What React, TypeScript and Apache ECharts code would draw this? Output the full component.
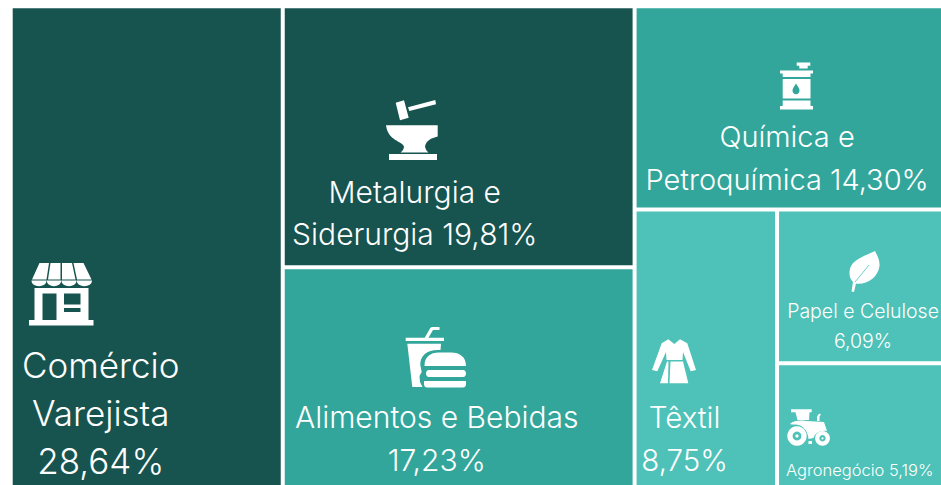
import React, { useEffect, useRef } from "react";
import * as echarts from "echarts";

const sectors = ["Comércio Varejista", "Metalurgia e Siderurgia", "Alimentos e Bebidas", "Química e Petroquímica", "Têxtil", "Papel e Celulose", "Agronegócio"];
const shares = [28.64, 19.81, 17.23, 14.3, 8.75, 6.09, 5.19];
const labelTexts = [
  "Comércio\nVarejista\n28,64%",
  "Metalurgia e\nSiderurgia 19,81%",
  "Alimentos e Bebidas\n17,23%",
  "Química e\nPetroquímica 14,30%",
  "Têxtil\n8,75%",
  "Papel e Celulose\n6,09%",
  "Agronegócio 5,19%",
];
const DARK = "#17544F";
const MID = "#32A69B";
const LIGHT = "#4EC2B8";
const tileColors = [DARK, DARK, MID, MID, LIGHT, LIGHT, LIGHT];
const FONT = "Inter";
const labelStyles = [
  { pos: [88, 328], size: 35, lh: 48 },
  { pos: [130, 158], size: 30, lh: 42 },
  { pos: [152, 121.5], size: 30, lh: 43 },
  { pos: [150.5, 102], size: 29, lh: 43 },
  { pos: [48, 179], size: 29.5, lh: 43 },
  { pos: [84, 79], size: 19.5, lh: 30 },
  { pos: [80.7, 90], size: 16.5, lh: 20 },
];

const ICONS: Record<string, string> = {
  store:
    "M39.5,263L49,263L46.5,279.5L32,279.5ZM50.5,263L60.5,263L60.5,279.5L48,279.5ZM62,263L72,263L75.5,279.5L62,279.5ZM73.5,263L83.5,263L91.5,279.5L77,279.5Z" +
    "M31.5,280.5L46.5,280.5C46.5,288 31.5,288 31.5,280.5ZM46.8,280.5L61.2,280.5C61.2,288 46.8,288 46.8,280.5ZM61.5,280.5L76.5,280.5C76.5,288 61.5,288 61.5,280.5ZM76.8,280.5L92,280.5C92,288 76.8,288 76.8,280.5Z" +
    "M34.5,288L88.5,288L88.5,320L93.5,320L93.5,325.5L29,325.5L29,320L34.5,320Z" +
    "M42.5,293.5L42.5,320L56.5,320L56.5,293.5ZM64,293.5L64,304.5L80.5,304.5L80.5,293.5ZM64,308L64,312L80.5,312L80.5,308Z",
  anvil:
    "M395.7,102.7L404,100.3L408.7,117.7L400,120.3ZM408,107.3L435.3,100L436,104.3L409.3,111Z" +
    "M386,125.3L437.7,125.3L437.7,136.5C431,138 426,141 425,146.5C425.5,149.5 427,151.5 428.5,152.5L400.5,152.5C402,151.5 404,149.5 404,146.5C402,141 388,141 386,125.3Z" +
    "M389,154L437,154L437,160L389,160Z",
  barrel:
    "M796.7,62.5L810.3,62.5L810.3,65.8L807.7,65.8L807.7,68.5L799.3,68.5L799.3,65.8L796.7,65.8Z" +
    "M780,70.5L813,70.5L813,73.5L810.5,73.5L810.5,77L782.7,77L782.7,73.5L780,73.5Z" +
    "M782.7,79L810.5,79L810.5,98.5L782.7,98.5Z" +
    "M782.7,100.5L810.5,100.5L810.5,106L813,106L813,109.5L780,109.5L780,106L782.7,106Z",
  burger:
    "M405.7,337.7L424.7,337.7L430,328.5C430.5,327.5 431.5,327 432.5,327L439.5,327L439.5,330L433,330L428.5,337.7L444,337.7L444,341L405.7,341Z" +
    "M407.3,343.7L441,343.7L440.5,350C428,349 420,355 420.3,365L421.7,372L419.5,376L420,382L422.5,387L412.3,387Z" +
    "M424.5,366C424.5,357 430,352.5 439,352.5L451,352.5C460,352.5 466,357 466,366Z" +
    "M429,370L463,370C467,370 467,377 463,377L429,377C425,377 425,370 429,370Z" +
    "M424,381L466,381L466,384C466,386 465,387.5 463,387.5L427,387.5C425,387.5 424,386 424,384Z",
  leaf:
    "M875,251C863,257 850,260 849.5,272C849.2,277 851,280 853,282L851.5,291.5L854,292L856,283.5C866,285 878,278 879.5,266C880,260 877,255 875,251Z",
  coat:
    "M668.3,339.3L674.3,344L680,339.3L687.3,343.3L696,370L690.7,371.3L683,352L682.5,360L666.5,360L666,352L657.3,371.3L652,370L661.7,343.3Z" +
    "M667,361.5L668.5,361.5L668,383.3L660,383.3ZM670.5,361.5L683,361.5L688.3,383.3L669.5,383.3Z",
  tractor:
    "M791,409.3L811.7,409.3L811.7,412.3L809.5,412.3L809,420L797.5,420L795.5,412.3L791,412.3Z" +
    "M790,424C794,420.5 800,420 806,421L824,422L827,431C820,430 815,433 813.5,438L808.5,439C808,431 803,425 796,424.5C793,424.5 791,424.5 790,424Z" +
    "M808.5,441L812,441L812,444L808.5,444Z" +
    "M817,421L819.5,421L819.5,417C819.5,416 820,415.5 821,414.5L819.5,413.5C818,415 817,416 817,417Z",
};
const drop = "M796,83.5C794,87 792.5,88.5 792.5,90.5C792.5,95.5 799.5,95.5 799.5,90.5C799.5,88.5 798,87 796,83.5Z";

let registered = false;
function registerIcons() {
  if (registered) return;
  registered = true;
  Object.keys(ICONS).forEach((k) => {
    echarts.graphic.registerShape("icon_" + k, echarts.graphic.extendPath(ICONS[k], {}));
  });
  echarts.graphic.registerShape("icon_drop", echarts.graphic.extendPath(drop, {}));
}

export default function App() {
  const ref = useRef<HTMLDivElement>(null);
  useEffect(() => {
    registerIcons();
    const chart = echarts.init(ref.current!, undefined, { renderer: "svg" });
    const icon = (k: string, fill = "#fff", z = 100) => ({
      type: "icon_" + k,
      x: 0,
      y: 0,
      z,
      silent: true,
      style: { fill },
    });
    const wheel = (cx: number, cy: number, r: number, fill: string, z: number) => ({
      type: "circle",
      z,
      silent: true,
      shape: { cx, cy, r },
      style: { fill },
    });
    chart.setOption({
      animation: false,
      backgroundColor: "#fff",
      tooltip: { show: false },
      graphic: {
        elements: [
          icon("store"),
          icon("anvil"),
          icon("barrel"),
          icon("drop", MID, 101),
          icon("burger"),
          icon("leaf"),
          {
            type: "line",
            z: 101,
            silent: true,
            shape: { x1: 855, y1: 282, x2: 869, y2: 265 },
            style: { stroke: LIGHT, lineWidth: 0.8 },
          },
          icon("coat"),
          icon("tractor"),
          wheel(797, 436, 9.7, "#fff", 100),
          wheel(797, 436, 4.4, LIGHT, 101),
          wheel(797, 436, 1.6, "#fff", 102),
          wheel(822.5, 438.3, 7.4, "#fff", 100),
          wheel(822.5, 438.3, 3.2, LIGHT, 101),
          wheel(822.5, 438.3, 1, "#fff", 102),
        ],
      },
      series: [
        {
          type: "treemap",
          left: 12.7,
          top: 8.3,
          width: 946,
          height: 484,
          roam: false,
          nodeClick: false,
          silent: true,
          breadcrumb: { show: false },
          sort: "desc",
          squareRatio: 1,
          visibleMin: 0,
          itemStyle: { gapWidth: 4, borderWidth: 0, borderColor: "#fff" },
          label: { show: true, color: "#fff", fontFamily: FONT, fontWeight: 300 },
          upperLabel: { show: false },
          data: sectors.map((name, i) => ({
            name,
            value: shares[i],
            itemStyle: { color: tileColors[i] },
            label: {
              formatter: labelTexts[i],
              position: labelStyles[i].pos,
              align: "center",
              verticalAlign: "top",
              fontSize: labelStyles[i].size,
              lineHeight: labelStyles[i].lh,
              overflow: "none",
            },
          })),
        },
      ],
    });
    return () => chart.dispose();
  }, []);
  return (
    <div style={{ position: "fixed", left: 0, top: 0, width: 941, height: 485 }}>
      <div ref={ref} style={{ width: 941, height: 485 }} />
    </div>
  );
}
